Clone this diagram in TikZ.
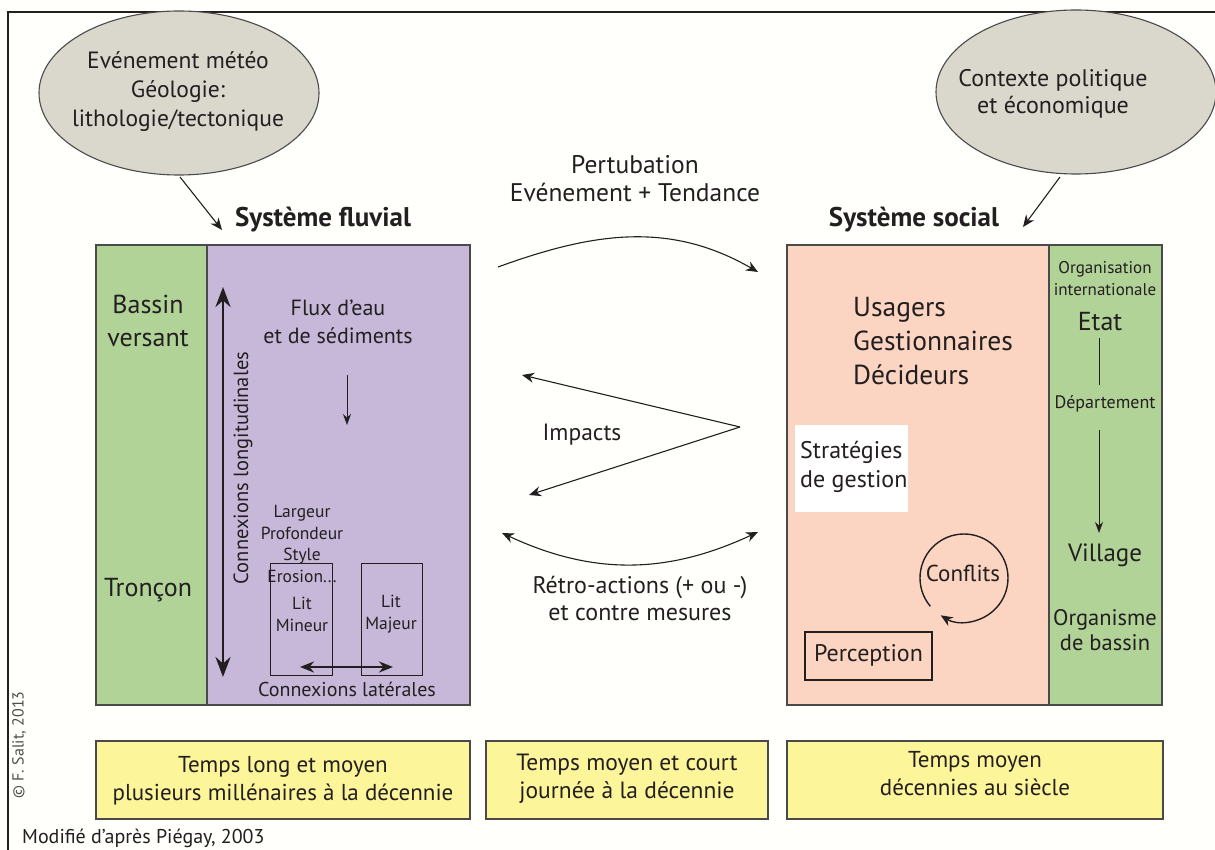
\documentclass[tikz,border=0pt]{standalone}
\usepackage{fontspec}
\setmainfont{PT Sans}
\usetikzlibrary{arrows.meta,calc,shapes.geometric}
\definecolor{bg}{HTML}{FFFFFB}
\definecolor{grn}{HTML}{B2D398}
\definecolor{prp}{HTML}{C7B8D9}
\definecolor{pnk}{HTML}{FBD5C1}
\definecolor{ylw}{HTML}{FDF59A}
\definecolor{ell}{HTML}{DAD8CD}
\definecolor{edge}{HTML}{4A4A4A}
\definecolor{ink}{HTML}{231F20}
\newcommand{\fsz}[2]{\fontsize{#1}{#2}\selectfont}
\begin{document}
\begin{tikzpicture}[x=1pt,y=-1pt,
  panel/.style={draw=edge, line width=1.2pt, inner sep=0pt, outer sep=0pt},
  ellnode/.style={ellipse, draw=edge, line width=1.1pt, fill=ell, inner sep=0pt,
    minimum width=280pt, minimum height=164pt},
  txt/.style={text=ink, inner sep=0pt, align=center},
  conn/.style={draw=ink, line width=1.1pt, -{Stealth[length=12pt,width=10pt]}},
  dblconn/.style={draw=ink, line width=1.1pt, {Stealth[length=12pt,width=10pt]}-{Stealth[length=12pt,width=10pt]}},
  thickconn/.style={draw=ink, line width=2.8pt, {Stealth[length=20pt,width=15pt]}-{Stealth[length=20pt,width=15pt]}},
  thinconn/.style={draw=ink, line width=1pt, -{Stealth[length=11pt,width=8pt]}}
]
\useasboundingbox (0,0) rectangle (1215,850);
\fill[bg] (0,0) rectangle (1215,850);
\draw[ink, line width=1.3pt] (8,870) -- (8,12) -- (1230,12);

% ellipses
\node[ellnode] (e1) at (179,93) {};
\node[txt, font=\fsz{23.5}{29}] (e1t) at (178,92) {Evénement météo\\Géologie:\\lithologie/tectonique};
\node[ellnode] (e2) at (1076,92) {};
\node[txt, font=\fsz{24}{27}] (e2t) at (1053,94) {Contexte politique\\et économique};

% titles
\node[txt, font=\fsz{27}{30}\bfseries] (sf) at (323,220) {Système fluvial};
\node[txt, font=\fsz{27}{30}\bfseries] (ss) at (914,220) {Système social};
\coordinate (e1a) at (180,177);
\coordinate (sfa) at (222,230);
\coordinate (e2a) at (1060,177);
\coordinate (ssa) at (1023,227);
\draw[conn] (e1a) -- (sfa);
\draw[conn] (e2a) -- (ssa);

% left panels
\node[panel, fill=grn, minimum width=111pt, minimum height=460pt] (bv) at (151.5,475) {};
\node[panel, fill=prp, minimum width=263pt, minimum height=460pt] (pp) at (338.5,475) {};
\node[txt, font=\fsz{26}{33}] (bvt) at (148,321) {Bassin\\versant};
\node[txt, font=\fsz{26}{30}] (tr) at (148,590) {Tronçon};

\coordinate (lt) at (223,287);
\coordinate (lb) at (223,677);
\draw[thickconn] (lt) -- (lb);
\node[txt, font=\fsz{20.5}{24}, rotate=90] (cl) at (243,468) {Connexions longitudinales};
\node[txt, font=\fsz{22}{28}] (fx) at (338,322) {Flux d’eau\\et de sédiments};
\coordinate (fa) at (347,375);
\coordinate (fb) at (347,425);
\draw[thinconn] (fa) -- (fb);

\node[panel, draw=ink, line width=1pt, minimum width=62pt, minimum height=112pt] (lmi) at (301,619) {};
\node[panel, draw=ink, line width=1pt, minimum width=61pt, minimum height=112pt] (lma) at (391.5,619) {};
\node[txt, font=\fsz{17.5}{21.5}] (lp) at (302,544) {Largeur\\Profondeur\\Style\\Erosion...};
\node[txt, font=\fsz{17.5}{22}] (lmit) at (302,614) {Lit\\Mineur};
\node[txt, font=\fsz{17.5}{22}] (lmat) at (391,614) {Lit\\Majeur};
\coordinate (ha) at (300,667);
\coordinate (hb) at (393,667);
\draw[draw=ink, line width=2.4pt, {Stealth[length=14pt,width=11pt]}-{Stealth[length=14pt,width=11pt]}] (ha) -- (hb);
\node[txt, font=\fsz{20}{24}] (clat) at (347,689) {Connexions latérales};

% middle
\node[txt, font=\fsz{25.5}{28}] (pert) at (635,179) {Pertubation\\Evénement + Tendance};
\coordinate (p1) at (498,267);
\coordinate (p2) at (758,272);
\draw[conn] (p1) to[out=20,in=150] (p2);
\coordinate (iv) at (740,427);
\coordinate (i1) at (522,375);
\coordinate (i2) at (529,495);
\draw[conn] (iv) -- (i1);
\draw[conn] (iv) -- (i2);
\node[txt, font=\fsz{23.5}{26}] (imp) at (582,435) {Impacts};
\coordinate (r1) at (502,533);
\coordinate (r2) at (758,532);
\draw[dblconn] (r1) to[out=-25,in=-155] (r2);
\node[txt, font=\fsz{24}{27}] (retro) at (640,598) {Rétro-actions (+ ou -)\\et contre mesures};

% right panels
\node[panel, fill=pnk, minimum width=262pt, minimum height=460pt] (pk) at (918,475) {};
\node[panel, fill=grn, minimum width=113pt, minimum height=460pt] (rg) at (1105.5,475) {};
\node[txt, font=\fsz{27.5}{34}, align=left, anchor=west] (ugd) at (853,341) {Usagers\\Gestionnaires\\Décideurs};
\node[fill=white, inner sep=0pt, minimum width=113pt, minimum height=87pt] (strb) at (851.5,468.5) {};
\node[txt, font=\fsz{24}{29}, align=left, anchor=west] (strt) at (800,467) {Stratégies\\de gestion};
\coordinate (cc) at (964,578);
\draw[conn, line width=1.4pt] ($(cc)+(140:44)$) arc[start angle=-220, end angle=122, radius=44];
\node[txt, font=\fsz{23}{26}] (conf) at (963,573) {Conflits};
\node[panel, draw=ink, line width=1.5pt, minimum width=127pt, minimum height=48pt] (perc) at (868.5,656) {};
\node[txt, font=\fsz{24}{26}] (perct) at (868.5,655) {Perception};

\node[txt, font=\fsz{17}{22}] (oi) at (1105,279) {Organisation\\internationale};
\node[txt, font=\fsz{26}{28}] (etat) at (1100,322) {Etat};
\node[txt, font=\fsz{18}{20}] (dep) at (1105,404) {Département};
\node[txt, font=\fsz{25}{28}] (vil) at (1105,555) {Village};
\node[txt, font=\fsz{22.5}{25}] (org) at (1105,630) {Organisme\\de bassin};
\coordinate (l1) at (1099,338);
\coordinate (l2) at (1099,385);
\draw[ink, line width=1pt] (l1) -- (l2);
\coordinate (a1) at (1099,430);
\coordinate (a2) at (1099,533);
\draw[thinconn] (a1) -- (a2);

% yellow boxes
\node[panel, fill=ylw, minimum width=374pt, minimum height=78pt] (y1) at (283,780) {};
\node[panel, fill=ylw, minimum width=282pt, minimum height=78pt] (y2) at (627,780) {};
\node[panel, fill=ylw, minimum width=376pt, minimum height=78pt] (y3) at (975,780) {};
\node[txt, font=\fsz{23}{28}] (y1t) at (283,781) {Temps long et moyen\\plusieurs millénaires à la décennie};
\node[txt, font=\fsz{23.5}{28}] (y2t) at (627,779) {Temps moyen et court\\journée à la décennie};
\node[txt, font=\fsz{23}{28}] (y3t) at (975,774) {Temps moyen\\décennies au siècle};

\node[txt, font=\fsz{16}{18}, rotate=90, text=ink!80] (copy) at (19,745) {© F. Salit, 2013};
\node[txt, font=\fsz{20}{22}, anchor=base west] (mod) at (22,843) {Modifié d’après Piégay, 2003};
\end{tikzpicture}
\end{document}
